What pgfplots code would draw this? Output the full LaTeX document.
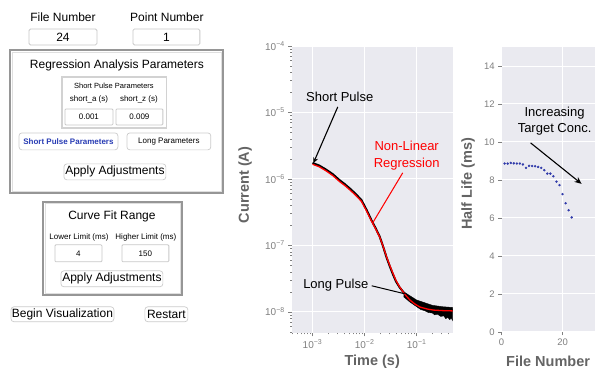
\documentclass[border=0pt]{standalone}
\usepackage{pgfplots}
\pgfplotsset{compat=1.18}
\usepackage{fontspec}
\setmainfont{Liberation Sans}
\usetikzlibrary{arrows.meta}
\definecolor{bgc}{RGB}{234,234,240}
\definecolor{tickc}{RGB}{128,128,128}
\definecolor{labc}{RGB}{100,100,100}
\definecolor{dotc}{RGB}{48,58,170}
\definecolor{btnblue}{RGB}{40,60,180}
\definecolor{fieldb}{RGB}{200,200,200}
\definecolor{grpb}{RGB}{150,150,150}
\newcommand{\fs}[1]{\fontsize{#1}{#1}\selectfont}
\pgfplotsset{
  sbstyle/.style={
    scale only axis, anchor=south west,
    axis background/.style={fill=bgc},
    axis line style={draw=none},
    grid=major, major grid style={white, line width=0.9pt},
    tick align=outside, xtick pos=bottom, ytick pos=left,
    tick style={tickc, line width=0.5pt},
    major tick length=3.5pt, minor tick length=1.6pt,
    ticklabel style={text=tickc},
    label style={text=labc, font=\fontsize{14.5}{16}\selectfont\bfseries},
  }
}
\begin{document}
\begin{tikzpicture}[x=1pt,y=1pt,
  field/.style={draw=fieldb, line width=0.8pt, fill=white, rounded corners=1pt, inner sep=0pt, font=\fs{8}},
  bigfield/.style={draw=fieldb, line width=0.8pt, fill=white, rounded corners=1.5pt, inner sep=0pt, font=\fs{12}},
  btn/.style={draw=gray!40, line width=0.7pt, fill=white, rounded corners=3pt, inner sep=0pt},
]
\fill[white] (0,0) rectangle (595,368);

% ---------------- GUI panel ----------------
\node[font=\fs{12}] at (63,351) {File Number};
\node[bigfield, minimum width=68pt, minimum height=16pt] at (63,331) {24};
\node[font=\fs{12}] at (167,351) {Point Number};
\node[bigfield, minimum width=67pt, minimum height=16pt] at (166.5,331) {1};

\draw[grpb, line width=1.6pt] (10,318) rectangle (223,175);
\draw[gray!25, line width=0.6pt] (11.9,316.1) rectangle (221.1,176.9);
\node[font=\fs{12}] at (117,303) {Regression Analysis Parameters};
\draw[gray!35, line width=1.2pt] (62,291) rectangle (167,240);
\node[font=\fs{7.5}] at (114,282) {Short Pulse Parameters};
\node[font=\fs{8}] at (89,268) {short\_a (s)};
\node[font=\fs{8}] at (139,268) {short\_z (s)};
\node[field, minimum width=48pt, minimum height=16pt] at (89,251) {0.001};
\node[field, minimum width=47pt, minimum height=16pt] at (139.5,251) {0.009};
\node[btn, minimum width=99pt, minimum height=17pt, font=\fs{8}\bfseries, text=btnblue] at (68.5,226.5) {Short Pulse Parameters};
\node[btn, minimum width=84pt, minimum height=17pt, font=\fs{8}] at (169,226.5) {Long Parameters};
\node[btn, minimum width=102pt, minimum height=16pt, font=\fs{12}] at (115,196) {Apply Adjustments};

\draw[grpb, line width=1.6pt] (43,166) rectangle (182,73);
\draw[gray!25, line width=0.6pt] (44.9,164.1) rectangle (180.1,74.9);
\node[font=\fs{12}] at (112,151) {Curve Fit Range};
\node[font=\fs{8}] at (79,130) {Lower Limit (ms)};
\node[font=\fs{8}] at (146,130) {Higher Limit (ms)};
\node[field, minimum width=47pt, minimum height=17pt] at (78.5,114.5) {4};
\node[field, minimum width=47pt, minimum height=17pt] at (145.5,114.5) {150};
\node[btn, minimum width=102pt, minimum height=16pt, font=\fs{12}] at (112,89) {Apply Adjustments};

\node[btn, minimum width=103pt, minimum height=15pt, font=\fs{12}] at (62.5,53.5) {Begin Visualization};
\node[btn, minimum width=43pt, minimum height=15pt, font=\fs{12}] at (166.5,53.5) {Restart};

% ---------------- Current vs time ----------------
\begin{axis}[sbstyle,
  at={(292pt,35pt)}, width=161pt, height=287pt,
  xmode=log, ymode=log,
  xmin=4e-4, xmax=0.49, ymin=4.83e-9, ymax=1e-4,
  xtick={1e-3,1e-2,1e-1},
  xticklabels={10\textsuperscript{−3},10\textsuperscript{−2},10\textsuperscript{−1}},
  ytick={1e-8,1e-7,1e-6,1e-5,1e-4},
  yticklabels={10\textsuperscript{−8},10\textsuperscript{−7},10\textsuperscript{−6},10\textsuperscript{−5},10\textsuperscript{−4}},
  minor xtick={4e-4,5e-4,6e-4,7e-4,8e-4,9e-4,2e-3,3e-3,4e-3,5e-3,6e-3,7e-3,8e-3,9e-3,2e-2,3e-2,4e-2,5e-2,6e-2,7e-2,8e-2,9e-2,2e-1,3e-1,4e-1},
  minor ytick={5e-9,6e-9,7e-9,8e-9,9e-9,2e-8,3e-8,4e-8,5e-8,6e-8,7e-8,8e-8,9e-8,2e-7,3e-7,4e-7,5e-7,6e-7,7e-7,8e-7,9e-7,2e-6,3e-6,4e-6,5e-6,6e-6,7e-6,8e-6,9e-6,2e-5,3e-5,4e-5,5e-5,6e-5,7e-5,8e-5,9e-5},
  ticklabel style={font=\fs{10}},
  xlabel={Time (s)}, ylabel={Current (A)},
  xlabel style={at={(axis description cs:0.5,-0.101)}, anchor=center},
  ylabel style={at={(axis description cs:-0.29,0.515)}, anchor=center},
]
% noisy tail of the measured data
\addplot[fill=black, draw=black, line width=0.4pt] coordinates {
 (0.0562,2.0e-8) (0.0741,1.74e-8) (0.1,1.50e-8) (0.1413,1.37e-8) (0.1995,1.25e-8)
 (0.3162,1.19e-8) (0.49,1.16e-8)
 (0.49,7.3e-9) (0.46,8.1e-9) (0.43,7.6e-9) (0.3981,8.2e-9) (0.36,7.9e-9) (0.33,8.7e-9)
 (0.29,8.5e-9) (0.25,9.2e-9) (0.22,9.0e-9) (0.1995,9.6e-9) (0.17,9.7e-9) (0.1413,1.04e-8) (0.12,1.08e-8)
 (0.1,1.19e-8) (0.0741,1.40e-8) (0.0562,1.68e-8)
};
% measured data
\addplot[black, line width=2.0pt] coordinates {
 (0.001,1.738e-6) (1.349e-3,1.585e-6) (1.820e-3,1.380e-6) (2.455e-3,1.175e-6)
 (3.311e-3,9.55e-7) (4.169e-3,8.32e-7) (5.129e-3,7.24e-7) (6.607e-3,6.03e-7)
 (8.710e-3,4.79e-7) (1.096e-2,3.39e-7) (1.349e-2,2.40e-7) (1.622e-2,1.82e-7)
 (1.950e-2,1.35e-7) (2.291e-2,9.33e-8) (2.630e-2,6.61e-8) (3.020e-2,4.90e-8)
 (3.467e-2,3.72e-8) (3.981e-2,2.88e-8) (4.677e-2,2.34e-8) (5.888e-2,1.86e-8)
 (7.413e-2,1.585e-8) (9.333e-2,1.38e-8) (0.1148,1.29e-8) (0.1585,1.20e-8)
 (0.2089,1.148e-8) (0.3162,1.096e-8) (0.49,1.072e-8)
};
% non-linear regression fit
\addplot[red, line width=1.3pt] coordinates {
 (0.001,1.66e-6) (1.349e-3,1.52e-6) (1.820e-3,1.32e-6) (2.455e-3,1.12e-6)
 (3.311e-3,9.10e-7) (4.169e-3,7.95e-7) (5.129e-3,6.90e-7) (6.607e-3,5.75e-7)
 (8.710e-3,4.58e-7) (1.096e-2,3.26e-7) (1.349e-2,2.33e-7) (1.622e-2,1.78e-7)
 (1.950e-2,1.33e-7) (2.291e-2,9.40e-8) (2.630e-2,6.75e-8) (3.020e-2,5.05e-8)
 (3.467e-2,3.86e-8) (3.981e-2,2.98e-8) (4.677e-2,2.38e-8) (5.888e-2,1.84e-8)
 (7.413e-2,1.50e-8) (9.333e-2,1.30e-8) (0.1148,1.18e-8) (0.1585,1.10e-8)
 (0.2089,1.06e-8) (0.3162,1.04e-8) (0.49,1.03e-8)
};
\end{axis}

% ---------------- Half life vs file number ----------------
\begin{axis}[sbstyle,
  at={(502pt,36pt)}, width=93pt, height=285pt,
  xmin=0, xmax=30.5, ymin=0, ymax=15,
  xtick={0,20}, ytick={0,2,4,6,8,10,12,14},
  ticklabel style={font=\fs{9.5}},
  /pgf/number format/assume math mode=true,
  xlabel={File Number}, ylabel={Half Life (ms)},
  xlabel style={at={(axis description cs:0.5,-0.105)}, anchor=center},
  ylabel style={at={(axis description cs:-0.36,0.52)}, anchor=center},
]
\addplot[only marks, mark=*, mark size=1.0pt, color=dotc] coordinates {
 (1,8.86) (2,8.86) (3,8.89) (4,8.87) (5,8.86) (6,8.86) (7,8.81) (8,8.63)
 (9,8.74) (10,8.73) (11,8.72) (12,8.68) (13,8.63) (14,8.51) (15,8.33) (16,8.33)
 (17,8.19) (18,7.91) (19,7.72) (20,7.25) (21,6.77) (22,6.40) (23,6.02)
};
\end{axis}

% ---------------- annotations ----------------
\node[font=\fs{13}] at (340,271) {Short Pulse};
\draw[black, line width=1.1pt, -{Stealth[length=6pt,width=5pt]}] (338,261) -- (313.5,204.5);
\node[align=center, text=red, font=\fontsize{13}{17}\selectfont] at (407,212.5) {Non-Linear\\Regression};
\draw[red, line width=1.0pt] (403,195) -- (373,145);
\node[font=\fs{13}] at (336,83) {Long Pulse};
\draw[black, line width=1.0pt] (372,82) -- (405,74);
\node[align=center, font=\fontsize{13}{16}\selectfont] at (555,247) {Increasing\\Target Conc.};
\draw[black, line width=1.1pt, -{Stealth[length=7pt,width=6pt]}] (531,225) -- (582,184);
\end{tikzpicture}
\end{document}
